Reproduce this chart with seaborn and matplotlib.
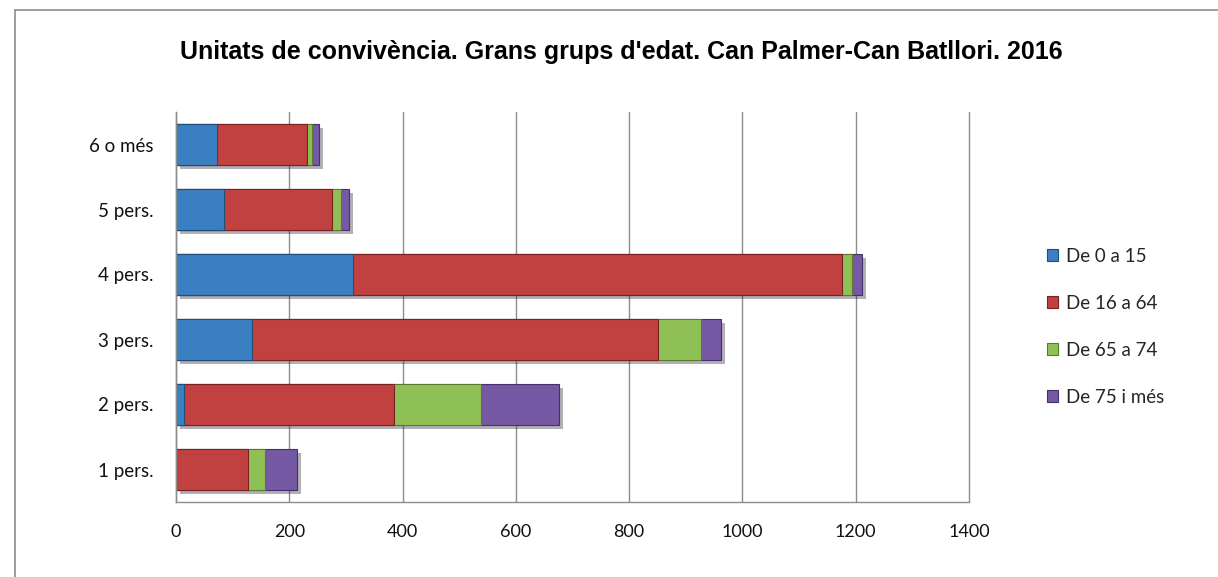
import numpy as np
import pandas as pd
import matplotlib.pyplot as plt
import matplotlib.patheffects as pe
from matplotlib.patches import Rectangle, Patch
import seaborn as sns

# Data
categories = ['6 o més', '5 pers.', '4 pers.', '3 pers.', '2 pers.', '1 pers.']
groups = ['De 0 a 15', 'De 16 a 64', 'De 65 a 74', 'De 75 i més']
de_0_15 = [72, 85, 313, 135, 14, 0]
de_16_64 = [160, 191, 863, 716, 370, 127]
de_65_74 = [8, 15, 18, 76, 154, 30]
de_75_mes = [12, 14, 17, 35, 138, 56]

colors = ['#3a7fc1', '#c0413f', '#8fc055', '#7659a4']
edges = ['#1f4e79', '#7a2220', '#5a7a2e', '#44306a']

sns.set_style('white')
plt.rcParams['font.family'] = ['Lato', 'DejaVu Sans']

df = pd.DataFrame({'cat': categories, groups[0]: de_0_15, groups[1]: de_16_64,
                   groups[2]: de_65_74, groups[3]: de_75_mes})
cum = df[groups].cumsum(axis=1)

fig = plt.figure(figsize=(12.18, 5.77), dpi=100)
ax = fig.add_axes([176 / 1218, 1 - 502 / 577, 793 / 1218, 390 / 577])

# stacked bars: draw cumulative totals from the largest down
for i in range(len(groups) - 1, -1, -1):
    sns.barplot(x=cum[groups[i]], y=df['cat'], order=categories, orient='h',
                color=colors[i], edgecolor=edges[i], linewidth=0.8,
                width=0.64, saturation=1, ax=ax)
    if i == len(groups) - 1:
        for p in ax.patches:
            p.set_path_effects([pe.SimplePatchShadow(offset=(3, -3), alpha=0.35), pe.Normal()])

ax.set_xlim(0, 1400)
ax.set_xticks(range(0, 1401, 200))
ax.set_xlabel('')
ax.set_ylabel('')
ax.grid(axis='x', color='#8c8c8c', linewidth=1)
for gl in ax.get_xgridlines():
    gl.set_clip_on(False)
ax.set_axisbelow(True)
for s in ['top', 'right']:
    ax.spines[s].set_visible(False)
for s in ['left', 'bottom']:
    ax.spines[s].set_color('#8c8c8c')
    ax.spines[s].set_linewidth(1)
ax.tick_params(axis='x', length=0, pad=16, labelsize=13, colors='#111111')
ax.tick_params(axis='y', length=0, pad=16, labelsize=13.5, colors='#111111')

handles = [Patch(facecolor=c, edgecolor=e, linewidth=0.8) for c, e in zip(colors, edges)]
fig.legend(handles, groups, loc='center left',
           bbox_to_anchor=(1030 / 1218, 1 - 327 / 577), frameon=False,
           fontsize=13.5, handlelength=0.6, handleheight=0.6,
           handletextpad=0.4, labelspacing=1.6)

fig.text(621 / 1218, 1 - 52 / 577,
         "Unitats de convivència. Grans grups d'edat. Can Palmer-Can Batllori. 2016",
         ha='center', va='center', fontsize=18, fontweight='bold', color='black',
         family=['Liberation Sans', 'DejaVu Sans'])

# outer chart frame (cropped at right and bottom)
fig.add_artist(Rectangle((15 / 1218, -0.1), 1.2, 1 - 10 / 577 + 0.1,
                         transform=fig.transFigure, fill=False,
                         edgecolor='#8c8c8c', linewidth=1.2))

fig.savefig('out.png', dpi=100)
